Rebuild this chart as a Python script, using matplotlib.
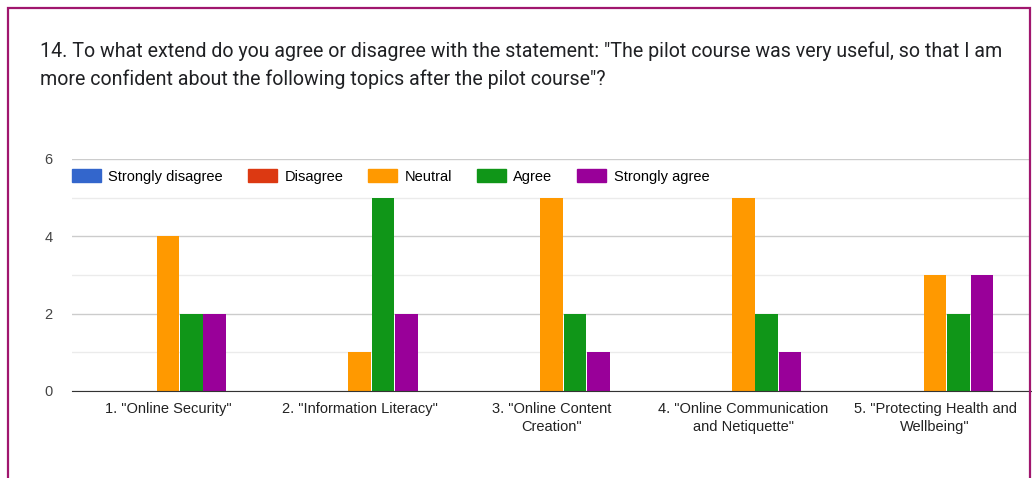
import numpy as np
import matplotlib.pyplot as plt
from matplotlib.patches import Rectangle, Patch

# Survey answers per topic
topics = ['1. "Online Security"', '2. "Information Literacy"',
          '3. "Online Content\nCreation"', '4. "Online Communication\nand Netiquette"',
          '5. "Protecting Health and\nWellbeing"']
answers = ['Strongly disagree', 'Disagree', 'Neutral', 'Agree', 'Strongly agree']
strongly_disagree = [0, 0, 0, 0, 0]
disagree = [0, 0, 0, 0, 0]
neutral = [4, 1, 5, 5, 3]
agree = [2, 5, 2, 2, 2]
strongly_agree = [2, 2, 1, 1, 3]
colors = ['#3366cc', '#dc3912', '#ff9900', '#109618', '#990099']

series = [strongly_disagree, disagree, neutral, agree, strongly_agree]

fig = plt.figure(figsize=(10.32, 4.78), dpi=100)
W, H = 1032, 478

# card border
fig.patches.append(Rectangle((8 / W, -0.1), (1030 - 8) / W, 1.1 - 8 / H,
                             transform=fig.transFigure, fill=False,
                             edgecolor='#a0166e', linewidth=1.6))

title = ('14. To what extend do you agree or disagree with the statement: "The pilot course was very useful, so that I am\n'
         'more confident about the following topics after the pilot course"?')
fig.text(40 / W, 1 - 41 / H, title, ha='left', va='top', fontsize=14.1,
         family='Roboto', color='#202124', linespacing=1.6)

ax = fig.add_axes([72 / W, 87 / H, (1031 - 72) / W, (391 - 159) / H])
x = np.arange(len(topics))
bw = 0.122
for i, (vals, c) in enumerate(zip(series, colors)):
    ax.bar(x + (i - 2) * bw, vals, width=bw * 0.96, color=c, zorder=3)

ax.set_xlim(-0.5, len(topics) - 0.5)
ax.set_ylim(0, 6)
ax.set_yticks([0, 2, 4, 6])
ax.set_yticks([1, 3, 5], minor=True)
ax.grid(axis='y', which='major', color='#cccccc', linewidth=1, zorder=0)
ax.grid(axis='y', which='minor', color='#ebebeb', linewidth=1, zorder=0)
for s in ['top', 'right', 'left']:
    ax.spines[s].set_visible(False)
ax.spines['bottom'].set_color('#333333')
ax.spines['bottom'].set_zorder(4)
ax.set_xticks(x)
ax.set_xticklabels(topics, family='Liberation Sans', fontsize=10.5, color='#222222',
                   linespacing=1.35)
ax.tick_params(axis='x', length=0, pad=8)
ax.tick_params(axis='y', which='both', length=0, pad=14, labelsize=10.5,
               labelcolor='#444444')
for t in ax.get_yticklabels():
    t.set_family('Liberation Sans')

handles = [Patch(color=c) for c in colors]
ax.legend(handles, answers, loc='upper left', bbox_to_anchor=(0.0, 0.955), ncol=5,
          frameon=False, prop={'family': 'Liberation Sans', 'size': 10.5},
          handlelength=2.0, handleheight=0.9, handletextpad=0.5, columnspacing=1.7,
          borderaxespad=0, borderpad=0)

fig.savefig('out.png', dpi=100)
